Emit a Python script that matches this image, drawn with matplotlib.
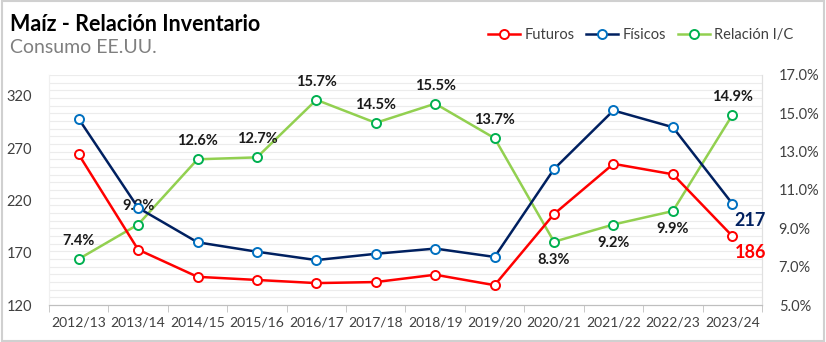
import matplotlib.pyplot as plt
from matplotlib.lines import Line2D
from matplotlib.patches import Rectangle

plt.rcParams['font.family'] = ['Lato', 'DejaVu Sans']

campanas = ['2012/13', '2013/14', '2014/15', '2015/16', '2016/17', '2017/18',
            '2018/19', '2019/20', '2020/21', '2021/22', '2022/23', '2023/24']
futuros = [264, 173, 147, 144, 141, 142, 149, 139, 207, 255, 245, 186]
fisicos = [298, 213, 180, 171, 163, 169, 174, 166, 250, 306, 290, 217]
relacion = [7.4, 9.2, 12.6, 12.7, 15.7, 14.5, 15.5, 13.7, 8.3, 9.2, 9.9, 14.9]
# position of each ratio label: above (1) or below (-1) the point
label_lado = [1, 1, 1, 1, 1, 1, 1, 1, -1, -1, -1, 1]

ROJO = '#ff0000'
NAVY = '#002060'
AZUL = '#0070c0'
VERDE_L = '#92d050'
VERDE_M = '#00b050'
GRIS_TXT = '#404040'

fig = plt.figure(figsize=(8.26, 3.42), dpi=100)
fig.patches.append(Rectangle((0.002, 0.003), 0.996, 0.994, transform=fig.transFigure,
                             fill=False, edgecolor='#d0d0d0', linewidth=1.5))

ax = fig.add_axes([0.0593, 0.108, 0.8632, 0.673])
ax2 = ax.twinx()

x = list(range(len(campanas)))
mk = dict(marker='o', markersize=6.5, markerfacecolor='white', markeredgewidth=1.4)

# light grid every 0.4 % on the right axis
for g in [5 + 0.4 * i for i in range(1, 31)]:
    ax2.axhline(g, color='#ececec', linewidth=0.8, zorder=0)

ax.plot(x, futuros, color=ROJO, linewidth=1.8, markeredgecolor=ROJO, zorder=4, **mk)
ax.plot(x, fisicos, color=NAVY, linewidth=1.8, markeredgecolor=AZUL, zorder=4, **mk)
ax2.plot(x, relacion, color=VERDE_L, linewidth=1.8, markeredgecolor=VERDE_M, zorder=4, **mk)

ax.set_zorder(ax2.get_zorder() + 1)
ax.patch.set_visible(False)

ax.set_xlim(-0.5, 11.5)
ax.set_ylim(120, 340)
ax.set_yticks([120, 170, 220, 270, 320])
ax2.set_ylim(5, 17)
ax2.set_yticks([5, 7, 9, 11, 13, 15, 17])
ax2.set_yticklabels(['{:.1f}%'.format(v) for v in [5, 7, 9, 11, 13, 15, 17]])

ax.set_xticks(x)
ax.set_xticklabels(campanas)
ax.set_xticks([i + 0.5 for i in range(-1, 12)], minor=True)
ax.tick_params(axis='x', which='major', length=0, pad=8, labelsize=10, labelcolor=GRIS_TXT)
ax.tick_params(axis='x', which='minor', length=5, color='#bfbfbf')
ax.tick_params(axis='y', length=0, pad=12, labelsize=10.5, labelcolor=GRIS_TXT)
ax2.tick_params(axis='y', length=0, pad=12, labelsize=10.5, labelcolor=GRIS_TXT)

for a in (ax, ax2):
    a.spines['top'].set_visible(False)
    a.spines['left'].set_color('#f0f0f0')
    a.spines['right'].set_color('#e0e0e0')
    a.spines['bottom'].set_color('#bfbfbf')

for i, v in enumerate(relacion):
    off = 8 if label_lado[i] > 0 else -8
    ax2.annotate('{:.1f}%'.format(v), (i, v), xytext=(0, off), textcoords='offset points',
                 ha='center', va='bottom' if off > 0 else 'top',
                 fontsize=10.5, fontweight='bold', color='#1a1a1a', zorder=6)

ax.annotate(str(fisicos[-1]), (11, fisicos[-1]), xytext=(13, -6), textcoords='offset points',
            ha='center', va='top', fontsize=13, fontweight='bold', color=NAVY)
ax.annotate(str(futuros[-1]), (11, futuros[-1]), xytext=(13, -6), textcoords='offset points',
            ha='center', va='top', fontsize=13, fontweight='bold', color=ROJO)

fig.text(0.012, 0.96, 'Maíz - Relación Inventario', fontsize=15.5, fontweight='bold',
         color='black', va='top')
fig.text(0.012, 0.885, 'Consumo EE.UU.', fontsize=14, color='#7f7f7f', va='top')

handles = [
    Line2D([], [], color=ROJO, linewidth=1.8, markeredgecolor=ROJO, **mk),
    Line2D([], [], color=NAVY, linewidth=1.8, markeredgecolor=AZUL, **mk),
    Line2D([], [], color=VERDE_L, linewidth=1.8, markeredgecolor=VERDE_M, **mk),
]
fig.legend(handles, ['Futuros', 'Físicos', 'Relación I/C'], loc='center right',
           bbox_to_anchor=(0.968, 0.898), ncol=3, frameon=False, fontsize=10.5,
           handlelength=2.2, handletextpad=0.3, columnspacing=0.8, labelcolor=GRIS_TXT,
           borderaxespad=0)

fig.savefig('out.png', dpi=100)
